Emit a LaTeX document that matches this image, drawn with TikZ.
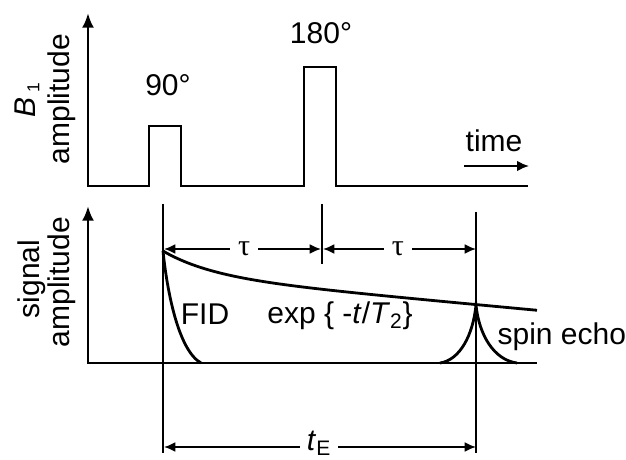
\documentclass[tikz,border=0pt]{standalone}
\usepackage{fontspec}
\setmainfont{Liberation Sans}
\newfontfamily\taufont{Liberation Serif}
\usetikzlibrary{arrows.meta}
\begin{document}
\begin{tikzpicture}[x=0.75pt,y=-0.75pt,
  ln/.style={line width=2.1pt, line cap=butt, line join=miter},
  thin ln/.style={line width=1.5pt},
  tip/.style={-{Latex[length=11pt,width=9pt]}},
  stip/.style={-{Latex[length=9pt,width=8pt]}},
  dtip/.style={{Latex[length=8.5pt,width=7.5pt]}-{Latex[length=8.5pt,width=7.5pt]}},
  lbl/.style={font=\fontsize{22.5}{27}\selectfont, inner sep=1pt},
  gaplbl/.style={lbl, fill=white, inner sep=6pt}]
\useasboundingbox (0,0) rectangle (626,460);
\fill[white] (0,0) rectangle (626,460);

% ---------- top panel: B1 pulses ----------
\coordinate (o1) at (88,187);
\coordinate (y1) at (88,13);
\coordinate (e1) at (528,186);
\draw[ln, tip] (o1) -- (y1);
\draw[ln] (88,186) -- (149,186) -- (149,126) -- (181,126) -- (181,186)
  -- (304,186) -- (304,67) -- (336,67) -- (336,186) -- (e1);
\node[lbl] (p90) at (168,85) {90°};
\node[lbl] (p180) at (321,33) {180°};
\node[lbl] (time) at (494,141) {time};
\coordinate (ta) at (464,166);
\coordinate (tb) at (529,166);
\draw[thin ln, stip] (ta) -- (tb);
\node[lbl, rotate=90] (b1) at (27,100) {\textit{B}\,{\fontsize{13}{15}\selectfont\raisebox{-3pt}{1}}};
\node[lbl, rotate=90] (amp1) at (62,99) {amplitude};

% ---------- bottom panel: signal ----------
\coordinate (o2) at (88,364);
\coordinate (y2) at (88,206);
\coordinate (e2) at (537,363);
\draw[ln, tip] (o2) -- (y2);
\draw[ln] (88,363) -- (e2);

\coordinate (v1t) at (163,204);
\coordinate (v1b) at (163,453);
\coordinate (vmt) at (322,204);
\coordinate (vmb) at (322,264);
\coordinate (v2t) at (476,212);
\coordinate (v2b) at (476,453);
\draw[ln] (v1t) -- (v1b);
\draw[ln] (vmt) -- (vmb);
\draw[ln] (v2t) -- (v2b);

% tau arrows
\coordinate (ta1) at (164,249);
\coordinate (ta2) at (321,249);
\coordinate (ta2b) at (323,249);
\coordinate (ta3) at (476,249);
\draw[thin ln, dtip] (ta1) -- node[gaplbl, pos=0.51] (tau1) {\taufont τ} (ta2);
\draw[thin ln, dtip] (ta2b) -- node[gaplbl, pos=0.49] (tau2) {\taufont τ} (ta3);

% envelope
\draw[ln] plot[domain=163:537, samples=90, smooth]
  (\x, {363-(87.5-0.093*(\x-163)+24.5*exp(-(\x-163)/50))});
% FID
\coordinate (fid0) at (163,251);
\coordinate (fid1) at (201,363);
\draw[ln] (fid0) .. controls (167,290) and (178,350) .. (fid1);
% spin echo
\coordinate (se0) at (440,363);
\coordinate (sep) at (476,305);
\coordinate (se1) at (517,363);
\draw[ln] (se0) .. controls (460,360) and (473,335) .. (sep)
  .. controls (479,335) and (494,360) .. (se1);

\node[lbl] (fid) at (205,314) {FID};
\node[lbl] (expl) at (340,316) {exp \{ -\textit{t}/\textit{T}\textsubscript{2}\}};
\node[lbl, anchor=west] (echo) at (496,337) {spin echo};
\node[lbl, rotate=90] (sig) at (32,279) {signal};
\node[lbl, rotate=90] (amp2) at (62,282) {amplitude};

% tE arrow
\coordinate (te1) at (164,447);
\coordinate (te2) at (476,447);
\draw[thin ln, dtip] (te1) -- (te2);
\node[gaplbl, inner sep=5pt] (tE) at (319,443) {\textit{t}\textsubscript{E}};
\end{tikzpicture}
\end{document}
